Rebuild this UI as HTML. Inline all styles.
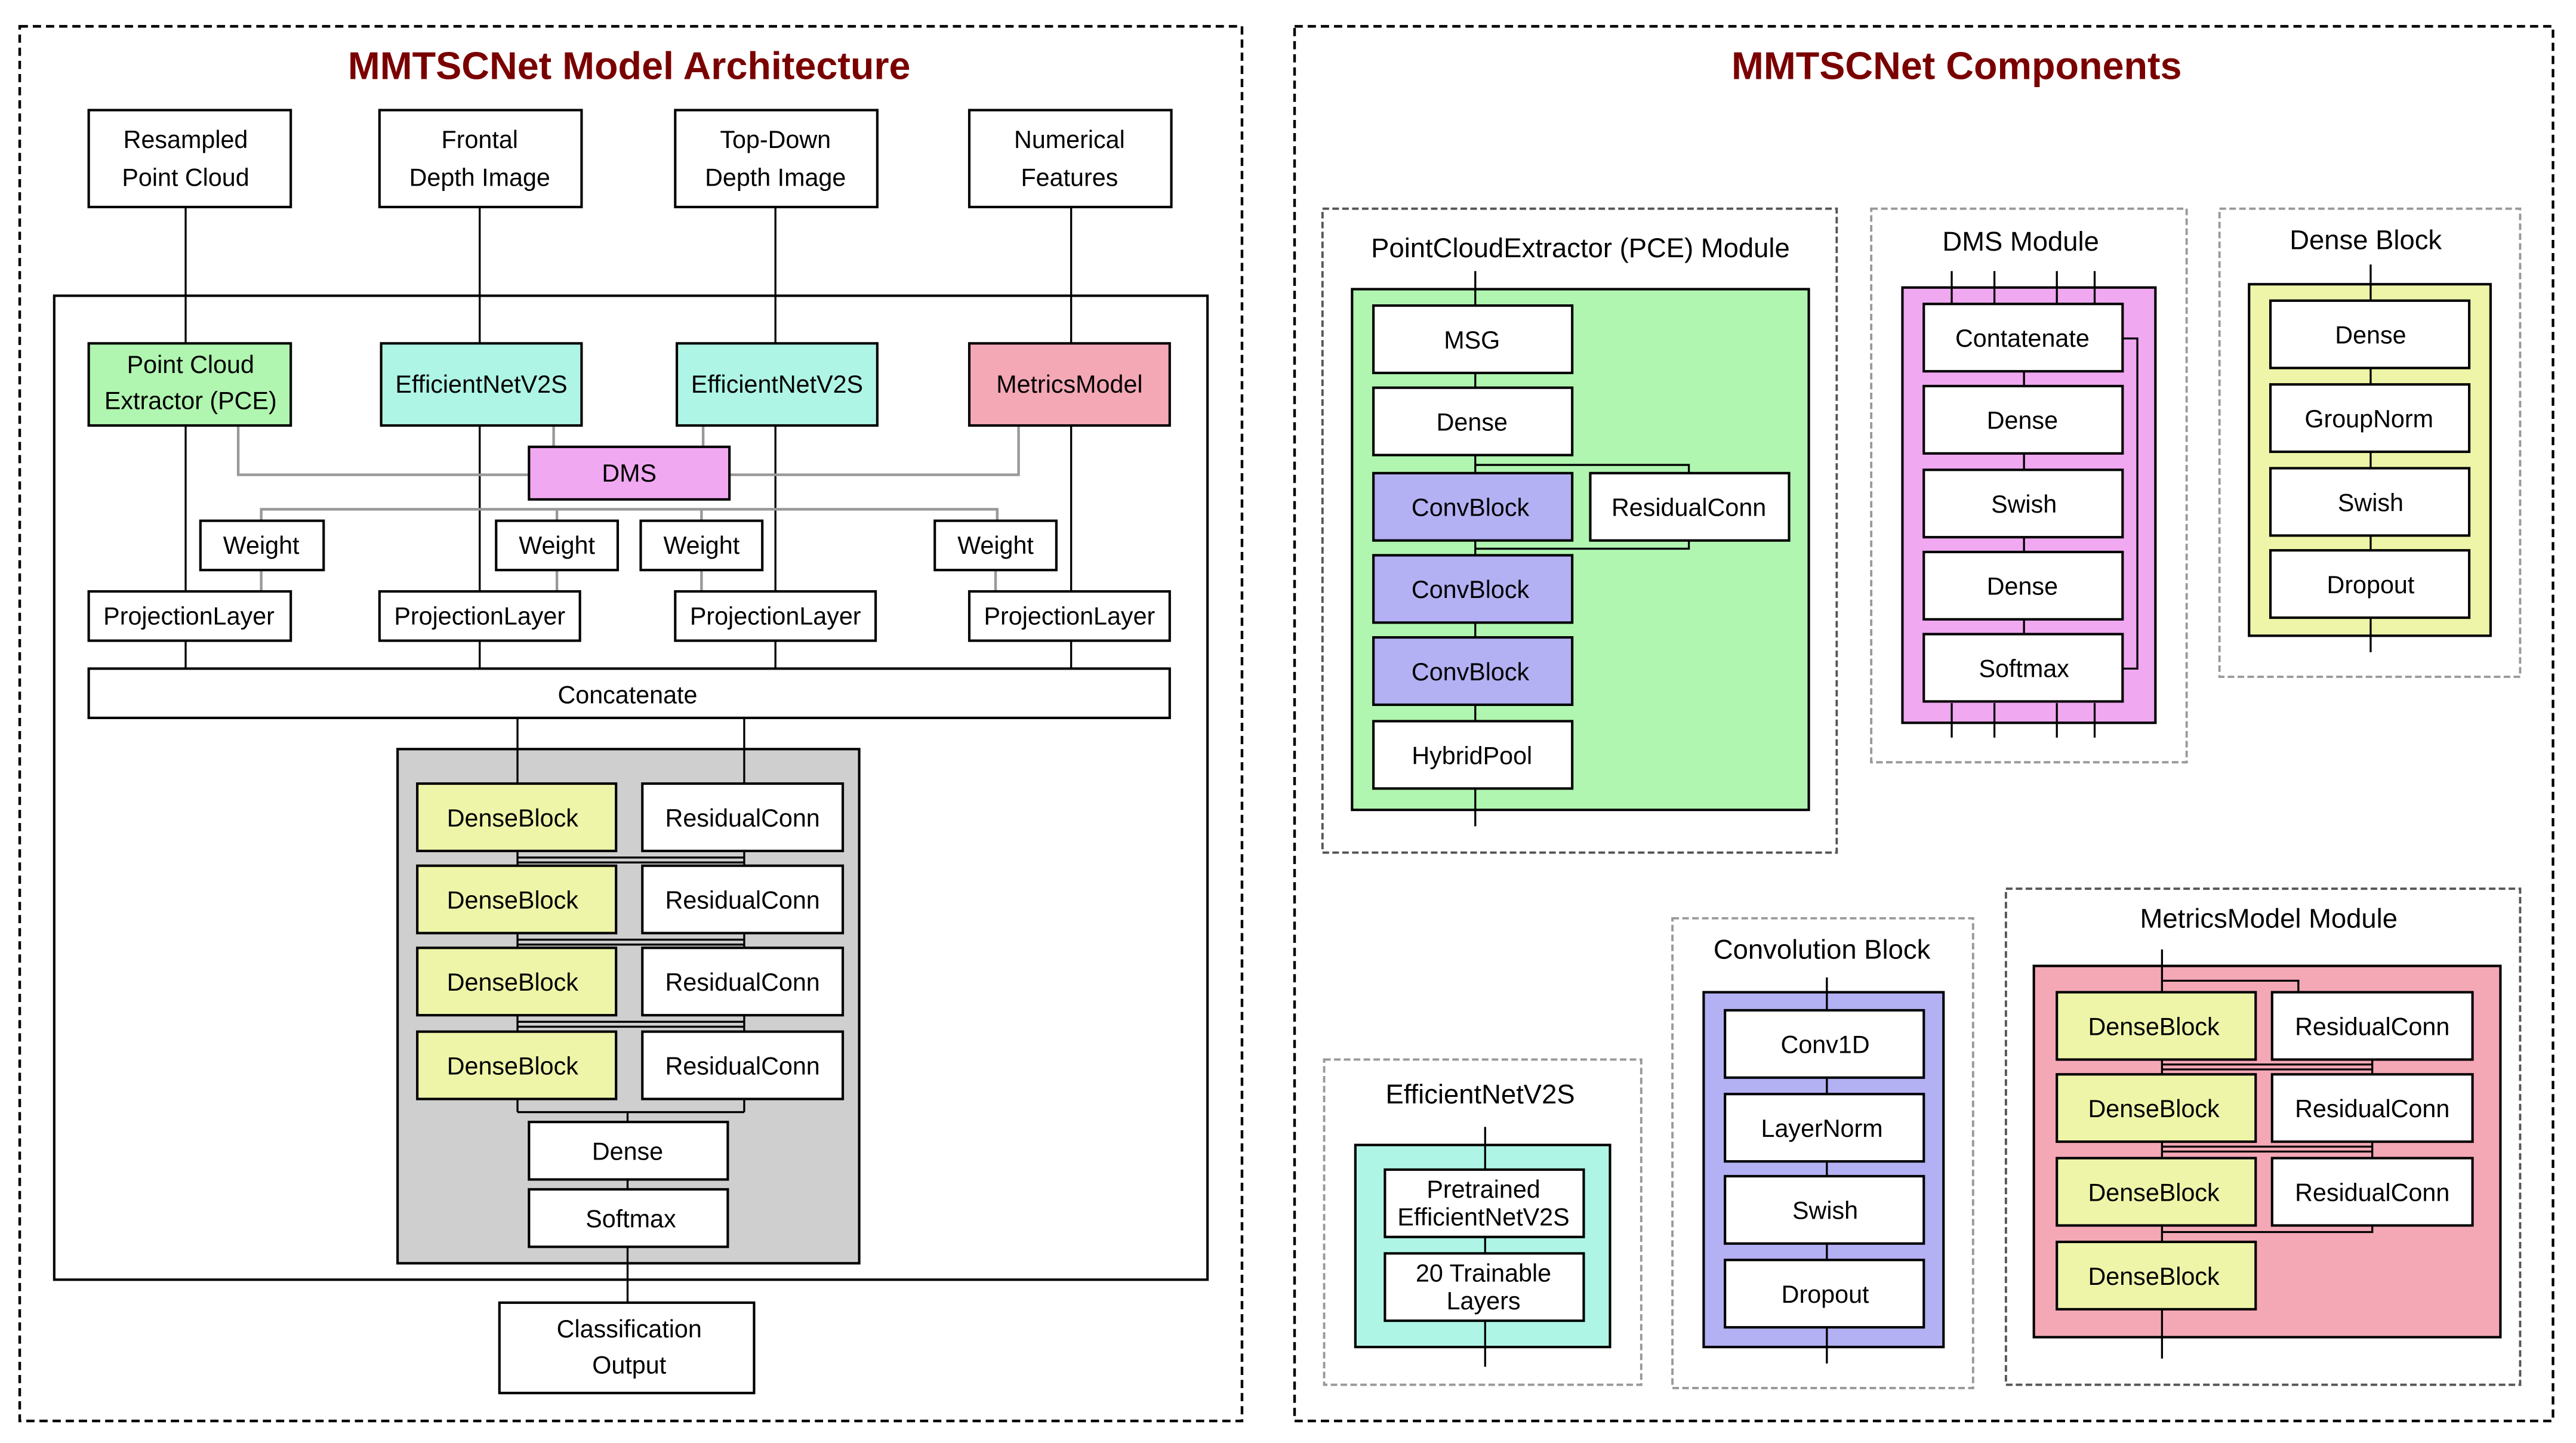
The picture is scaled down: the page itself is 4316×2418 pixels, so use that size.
<!DOCTYPE html>
<html><head><meta charset="utf-8"><style>
html,body{margin:0;padding:0;background:#fff}
svg{display:block}
text{font-family:"Liberation Sans",sans-serif;font-size:15px;fill:#000;text-anchor:middle;dominant-baseline:central}
.t{font-size:23.5px;font-weight:bold;fill:#7a0000}
.h{font-size:16.5px}
.b{stroke:#000;stroke-width:1.5}
.l{stroke:#000;stroke-width:1.2;fill:none}
.g{stroke:#999;stroke-width:1.6;fill:none}
</style></head><body>
<svg width="4316" height="2418" viewBox="0 0 1568 878.4" xmlns="http://www.w3.org/2000/svg">
<rect width="1568" height="879" fill="#fff"/>
<rect x="12" y="16" width="744" height="849" fill="none" stroke="#000" stroke-width="1.6" stroke-dasharray="5,3"/>
<rect x="788" y="16" width="766" height="849" fill="none" stroke="#000" stroke-width="1.6" stroke-dasharray="5,3"/>
<text class="t" x="383" y="40">MMTSCNet Model Architecture</text>
<text class="t" x="1191" y="40">MMTSCNet Components</text>

<rect x="33" y="180" width="702" height="599" fill="#fff" class="b"/>
<path class="l" d="M113 126V407M292 126V407M472 126V407M652 126V407"/>
<path class="g" d="M145 259V289H322M444 289H620V259M337 259V272M428 259V272M159 317V310H607V317M339 310V317M427 310V317M159 347V360M339 347V360M427 347V360M606 347V360"/>
<g class="b">
<rect x="54" y="67" width="123" height="59" fill="#fff"/>
<rect x="231" y="67" width="123" height="59" fill="#fff"/>
<rect x="411" y="67" width="123" height="59" fill="#fff"/>
<rect x="590" y="67" width="123" height="59" fill="#fff"/>
<rect x="54" y="209" width="123" height="50" fill="#b0f5b0"/>
<rect x="232" y="209" width="122" height="50" fill="#aff5e5"/>
<rect x="412" y="209" width="122" height="50" fill="#aff5e5"/>
<rect x="590" y="209" width="122" height="50" fill="#f4a8b6"/>
<rect x="322" y="272" width="122" height="32" fill="#f0a8f0"/>
<rect x="122" y="317" width="75" height="30" fill="#fff"/>
<rect x="302" y="317" width="74" height="30" fill="#fff"/>
<rect x="390" y="317" width="74" height="30" fill="#fff"/>
<rect x="569" y="317" width="74" height="30" fill="#fff"/>
<rect x="54" y="360" width="123" height="30" fill="#fff"/>
<rect x="231" y="360" width="122" height="30" fill="#fff"/>
<rect x="411" y="360" width="122" height="30" fill="#fff"/>
<rect x="590" y="360" width="122" height="30" fill="#fff"/>
<rect x="54" y="407" width="658" height="30" fill="#fff"/>
<rect x="242" y="456" width="281" height="313" fill="#cfcfcf"/>
</g>
<text x="113" y="85">Resampled</text><text x="113" y="108">Point Cloud</text>
<text x="292" y="85">Frontal</text><text x="292" y="108">Depth Image</text>
<text x="472" y="85">Top-Down</text><text x="472" y="108">Depth Image</text>
<text x="651" y="85">Numerical</text><text x="651" y="108">Features</text>
<text x="116" y="222">Point Cloud</text><text x="116" y="244">Extractor (PCE)</text>
<text x="293" y="234">EfficientNetV2S</text>
<text x="473" y="234">EfficientNetV2S</text>
<text x="651" y="234">MetricsModel</text>
<text x="383" y="288">DMS</text>
<text x="159" y="332">Weight</text><text x="339" y="332">Weight</text><text x="427" y="332">Weight</text><text x="606" y="332">Weight</text>
<text x="115" y="375">ProjectionLayer</text><text x="292" y="375">ProjectionLayer</text><text x="472" y="375">ProjectionLayer</text><text x="651" y="375">ProjectionLayer</text>
<text x="382" y="423">Concatenate</text>
<path class="l" d="M315 437V677M453 437V677M315 677H453M382 677V793M315 522H453M315 525H453M315 572H453M315 575H453M315 622H453M315 625H453"/>
<g class="b">
<rect x="254" y="477" width="121" height="41" fill="#eef5a8"/><rect x="391" y="477" width="122" height="41" fill="#fff"/>
<rect x="254" y="527" width="121" height="41" fill="#eef5a8"/><rect x="391" y="527" width="122" height="41" fill="#fff"/>
<rect x="254" y="577" width="121" height="41" fill="#eef5a8"/><rect x="391" y="577" width="122" height="41" fill="#fff"/>
<rect x="254" y="628" width="121" height="41" fill="#eef5a8"/><rect x="391" y="628" width="122" height="41" fill="#fff"/>
<rect x="322" y="683" width="121" height="35" fill="#fff"/>
<rect x="322" y="724" width="121" height="35" fill="#fff"/>
<rect x="304" y="793" width="155" height="55" fill="#fff"/>
</g>
<text x="312" y="498">DenseBlock</text><text x="452" y="498">ResidualConn</text>
<text x="312" y="548">DenseBlock</text><text x="452" y="548">ResidualConn</text>
<text x="312" y="598">DenseBlock</text><text x="452" y="598">ResidualConn</text>
<text x="312" y="649">DenseBlock</text><text x="452" y="649">ResidualConn</text>
<text x="382" y="701">Dense</text><text x="384" y="742">Softmax</text>
<text x="383" y="809">Classification</text><text x="383" y="831">Output</text>

<g fill="none" stroke="#999" stroke-width="1.4" stroke-dasharray="4,2">
<rect x="805" y="127" width="313" height="392" stroke="#555"/>
<rect x="1139" y="127" width="192" height="337"/>
<rect x="1351" y="127" width="183" height="285"/>
<rect x="806" y="645" width="193" height="198"/>
<rect x="1018" y="559" width="183" height="286"/>
<rect x="1221" y="541" width="313" height="302" stroke="#555"/>
</g>
<text class="h" x="962" y="151">PointCloudExtractor (PCE) Module</text>
<text class="h" x="1230" y="147">DMS Module</text>
<text class="h" x="1440" y="146">Dense Block</text>
<text class="h" x="901" y="666">EfficientNetV2S</text>
<text class="h" x="1109" y="578">Convolution Block</text>
<text class="h" x="1381" y="559">MetricsModel Module</text>

<rect x="823" y="176" width="278" height="317" fill="#b0f5b0" class="b"/>
<path class="l" d="M898 165V503M898 283H1028V288M1028 329V334H898"/>
<g class="b">
<rect x="836" y="186" width="121" height="41" fill="#fff"/>
<rect x="836" y="236" width="121" height="41" fill="#fff"/>
<rect x="836" y="288" width="121" height="41" fill="#b3b0f3"/>
<rect x="968" y="288" width="121" height="41" fill="#fff"/>
<rect x="836" y="338" width="121" height="41" fill="#b3b0f3"/>
<rect x="836" y="388" width="121" height="41" fill="#b3b0f3"/>
<rect x="836" y="439" width="121" height="41" fill="#fff"/>
</g>
<text x="896" y="207">MSG</text><text x="896" y="257">Dense</text><text x="895" y="309">ConvBlock</text><text x="1028" y="309">ResidualConn</text>
<text x="895" y="359">ConvBlock</text><text x="895" y="409">ConvBlock</text><text x="896" y="460">HybridPool</text>

<rect x="1158" y="175" width="154" height="265" fill="#f0a8f0" class="b"/>
<path class="l" d="M1188 165V185M1214 165V185M1252 165V185M1275 165V185M1188 428V449M1214 428V449M1252 428V449M1275 428V449M1232 226V386M1292 206H1301V407H1292"/>
<g class="b" fill="#fff">
<rect x="1171" y="185" width="121" height="41"/>
<rect x="1171" y="235" width="121" height="41"/>
<rect x="1171" y="286" width="121" height="41"/>
<rect x="1171" y="336" width="121" height="41"/>
<rect x="1171" y="386" width="121" height="41"/>
</g>
<text x="1231" y="206">Contatenate</text><text x="1231" y="256">Dense</text><text x="1232" y="307">Swish</text><text x="1231" y="357">Dense</text><text x="1232" y="407">Softmax</text>

<rect x="1369" y="173" width="147" height="214" fill="#eef5a8" class="b"/>
<path class="l" d="M1443 161V397"/>
<g class="b" fill="#fff">
<rect x="1382" y="183" width="121" height="41"/>
<rect x="1382" y="234" width="121" height="41"/>
<rect x="1382" y="285" width="121" height="41"/>
<rect x="1382" y="335" width="121" height="41"/>
</g>
<text x="1443" y="204">Dense</text><text x="1442" y="255">GroupNorm</text><text x="1443" y="306">Swish</text><text x="1443" y="356">Dropout</text>

<rect x="825" y="697" width="155" height="123" fill="#aff5e5" class="b"/>
<path class="l" d="M904 686V832"/>
<g class="b" fill="#fff">
<rect x="843" y="712" width="121" height="41"/>
<rect x="843" y="763" width="121" height="41"/>
</g>
<text x="903" y="724">Pretrained</text><text x="903" y="741">EfficientNetV2S</text>
<text x="903" y="775">20 Trainable</text><text x="903" y="792">Layers</text>

<rect x="1037" y="604" width="146" height="216" fill="#b3b0f3" class="b"/>
<path class="l" d="M1112 595V830"/>
<g class="b" fill="#fff">
<rect x="1050" y="615" width="121" height="41"/>
<rect x="1050" y="666" width="121" height="41"/>
<rect x="1050" y="716" width="121" height="41"/>
<rect x="1050" y="767" width="121" height="41"/>
</g>
<text x="1111" y="636">Conv1D</text><text x="1109" y="687">LayerNorm</text><text x="1111" y="737">Swish</text><text x="1111" y="788">Dropout</text>

<rect x="1238" y="588" width="284" height="226" fill="#f4a8b6" class="b"/>
<path class="l" d="M1316 578V827M1316 597H1399V604M1444 645V654M1444 695V705M1444 746V750H1316M1316 648H1444M1316 651H1444M1316 698H1444M1316 701H1444"/>
<g class="b">
<rect x="1252" y="604" width="121" height="41" fill="#eef5a8"/><rect x="1383" y="604" width="122" height="41" fill="#fff"/>
<rect x="1252" y="654" width="121" height="41" fill="#eef5a8"/><rect x="1383" y="654" width="122" height="41" fill="#fff"/>
<rect x="1252" y="705" width="121" height="41" fill="#eef5a8"/><rect x="1383" y="705" width="122" height="41" fill="#fff"/>
<rect x="1252" y="756" width="121" height="41" fill="#eef5a8"/>
</g>
<text x="1311" y="625">DenseBlock</text><text x="1444" y="625">ResidualConn</text>
<text x="1311" y="675">DenseBlock</text><text x="1444" y="675">ResidualConn</text>
<text x="1311" y="726">DenseBlock</text><text x="1444" y="726">ResidualConn</text>
<text x="1311" y="777">DenseBlock</text>
</svg>
</body></html>
